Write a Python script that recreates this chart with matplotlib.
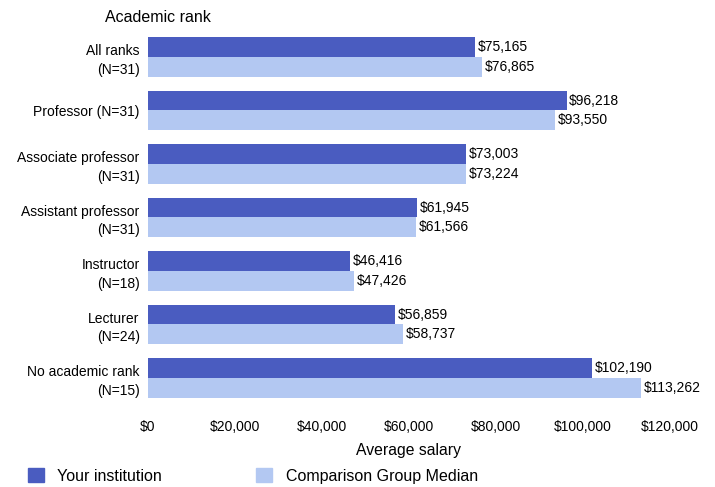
import numpy as np
import matplotlib.pyplot as plt
from matplotlib.patches import Patch
from matplotlib.ticker import FuncFormatter

plt.rcParams['font.family'] = ['Liberation Sans', 'DejaVu Sans']

ranks = ['All ranks\n(N=31)', 'Professor (N=31)', 'Associate professor\n(N=31)',
         'Assistant professor\n(N=31)', 'Instructor\n(N=18)', 'Lecturer\n(N=24)',
         'No academic rank\n(N=15)']
your_institution = [75165, 96218, 73003, 61945, 46416, 56859, 102190]
comparison_median = [76865, 93550, 73224, 61566, 47426, 58737, 113262]
x_ticks = [0, 20000, 40000, 60000, 80000, 100000, 120000]

dark = '#4a5cc0'
light = '#b3c8f2'

fig = plt.figure(figsize=(7.15, 4.87), dpi=100)
ax = fig.add_axes([0.207, 0.169, 0.730, 0.769])

y = np.arange(len(ranks))
h = 0.37
rects1 = ax.barh(y - h/2, your_institution, h, color=dark, label='Your institution')
rects2 = ax.barh(y + h/2, comparison_median, h, color=light, label='Comparison Group Median')

ax.bar_label(rects1, labels=[f"${v:,}" for v in your_institution], padding=2, fontsize=10)
ax.bar_label(rects2, labels=[f"${v:,}" for v in comparison_median], padding=2, fontsize=10)

ax.set_ylim(6.5, -0.5)
ax.set_xlim(0, 120000)
ax.set_yticks(y)
ax.set_yticklabels(ranks, fontsize=10, linespacing=1.4)
ax.set_xticks(x_ticks)
ax.xaxis.set_major_formatter(FuncFormatter(lambda v, p: f"${int(v):,}"))
ax.tick_params(axis='x', labelsize=10, length=0, pad=11)
ax.tick_params(axis='y', length=0, pad=6)
ax.set_xlabel('Average salary', fontsize=11.3, labelpad=6.5)
for s in ax.spines.values():
    s.set_visible(False)

fig.text(0.147, 0.965, 'Academic rank', fontsize=11.5, va='center', ha='left')

handles = [Patch(color=dark), Patch(color=light)]
fig.legend(handles, ['Your institution', 'Comparison Group Median'], ncol=2,
           loc='center left', bbox_to_anchor=(0.039, 0.023), frameon=False,
           fontsize=11.5, handlelength=1.0, handleheight=1.0, handletextpad=0.85,
           columnspacing=5.9, borderaxespad=0, borderpad=0)

fig.savefig('out.png', dpi=100)
